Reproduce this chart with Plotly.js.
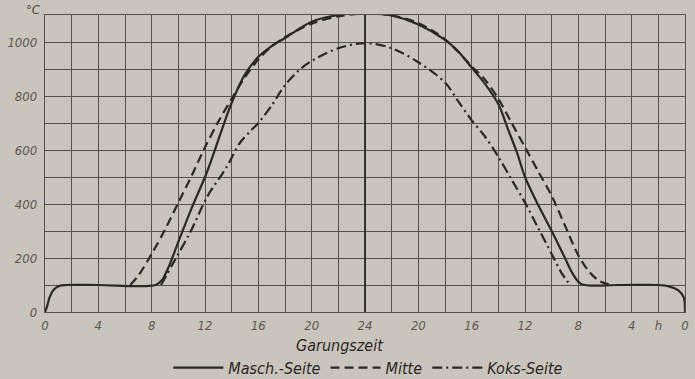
<!DOCTYPE html>
<html>
<head>
<meta charset="utf-8">
<script src="https://cdn.plot.ly/plotly-3.0.1.min.js"></script>
<style>
html,body{margin:0;padding:0;background:#c9c5bc;}
#chart{width:695px;height:379px;}
</style>
</head>
<body>
<div id="chart"></div>
<script>
// Garungszeit in hours (0..24 going up, then 24..0 back = 0..48 on the axis)
const maschHours = [0,0.15,0.35,0.65,1.1,1.6,4,8.3,8.8,9.3,10,11,12,12.6,13.3,14,15,16,17,18,20,22,24,26,28,30,31,32,33,34,34.7,35.4,36,37,38,39,39.6,40.2,43,46,46.8,47.5,47.9,48];
const maschTemp  = [0,20,55,82,97,100,100,100,120,170,260,385,500,580,680,775,880,945,985,1015,1075,1100,1108,1098,1065,1008,965,905,845,770,680,590,500,395,300,200,140,104,100,100,95,80,55,0];

const mitteHours = [6.4,7,8,9,10,11,12,13,14,15,16,17,18,20,22,24,26,28,30,32,33,34,35,36,37,38,39,40,40.8,41.6,42.5];
const mitteTemp  = [100,135,215,305,405,505,610,705,790,870,935,983,1018,1068,1095,1105,1098,1070,1010,910,860,790,700,610,520,430,320,210,150,114,100];

const koksHours = [8.7,9.6,10.9,12.2,13.6,14.6,15.4,16,17,18,19,20,22,24,26,28,30,31,32,33,34,35,36,37,38,38.8,39.4];
const koksTemp  = [100,180,296,430,535,625,670,700,765,840,893,930,977,996,977,925,850,780,710,650,575,490,405,310,215,140,100];

const xTickVals = [0,2,4,6,8,10,12,14,16,18,20,22,24,26,28,30,32,34,36,38,40,42,44,46,48];
const xTickText = ['0','','4','','8','','12','','16','','20','','24','','20','','16','','12','','8','','4','h','0'];
const yTickVals = [0,100,200,300,400,500,600,700,800,900,1000,1100];
const yTickText = ['0','','200','','400','','600','','800','','1000',''];

const seriesNames = ['Masch.-Seite','Mitte','Koks-Seite'];

const ink = '#2b2824';
const paper = '#c9c5bc';
const gridC = '#56524b';
const tickFont = {family:'DejaVu Sans Condensed, Liberation Sans Narrow, sans-serif', size:13, color:'#5b5750', style:'italic'};

const traces = [
  {x:maschHours, y:maschTemp, name:seriesNames[0], mode:'lines', line:{color:ink, width:2.2, shape:'spline', smoothing:0.9}},
  {x:mitteHours, y:mitteTemp, name:seriesNames[1], mode:'lines', line:{color:ink, width:2.2, dash:'9px,5px', shape:'spline', smoothing:0.9}},
  {x:koksHours, y:koksTemp, name:seriesNames[2], mode:'lines', line:{color:ink, width:2.2, dash:'10px,4px,2px,4px', shape:'spline', smoothing:0.9}}
];

const layout = {
  width:695, height:379,
  paper_bgcolor:paper, plot_bgcolor:paper,
  margin:{l:45, r:10, t:15, b:67, autoexpand:false},
  showlegend:true,
  legend:{orientation:'h', xref:'container', yref:'container', x:0.53, xanchor:'center', y:0.03, yanchor:'middle',
          font:{family:'DejaVu Sans Condensed, sans-serif', size:16, color:ink, style:'italic'},
          bgcolor:'rgba(0,0,0,0)', itemwidth:50, tracegroupgap:0},
  xaxis:{range:[0,48], tickmode:'array', tickvals:xTickVals, ticktext:xTickText,
         showgrid:true, gridcolor:gridC, gridwidth:1, zeroline:false,
         showline:true, linecolor:gridC, linewidth:1.2, mirror:true,
         ticks:'', tickfont:tickFont, ticklabelstandoff:1, automargin:false},
  yaxis:{range:[0,1100], tickmode:'array', tickvals:yTickVals, ticktext:yTickText,
         showgrid:true, gridcolor:gridC, gridwidth:1, zeroline:false, automargin:false,
         showline:true, linecolor:gridC, linewidth:1.2, mirror:true,
         ticks:'', tickfont:tickFont, ticklabelstandoff:4},
  shapes:[{type:'line', xref:'x', yref:'paper', x0:24, x1:24, y0:0, y1:1, line:{color:ink, width:1.8}}],
  annotations:[
    {text:'°C', xref:'paper', yref:'paper', x:0, y:1, xanchor:'right', yanchor:'bottom', xshift:-2, yshift:-4,
     showarrow:false, font:{family:'DejaVu Sans Condensed, sans-serif', size:13, color:'#4a4640', style:'italic'}},
    {text:'Garungszeit', xref:'paper', yref:'paper', x:0.461, y:0, xanchor:'center', yanchor:'middle', yshift:-33,
     showarrow:false, font:{family:'DejaVu Sans Condensed, sans-serif', size:16, color:ink, style:'italic'}}
  ]
};

Plotly.newPlot('chart', traces, layout, {displayModeBar:false, staticPlot:true});
</script>
</body>
</html>
